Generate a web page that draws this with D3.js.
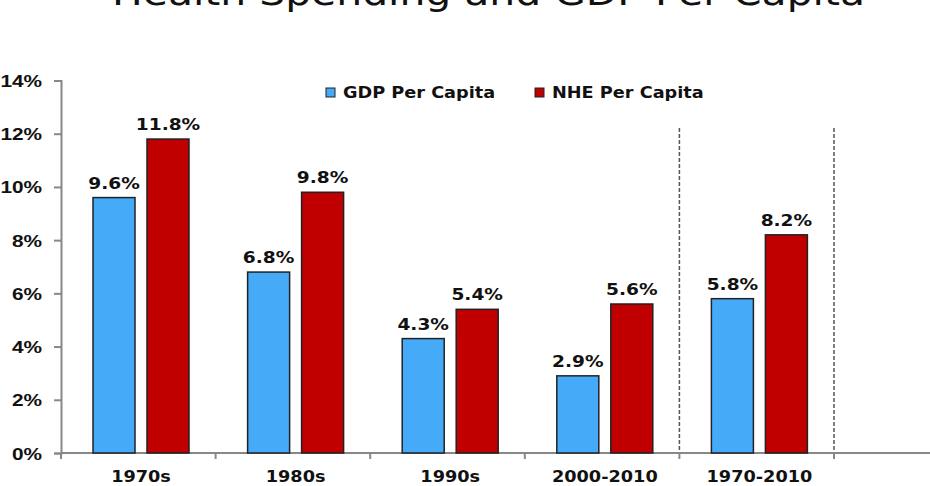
<!doctype html>
<html lang="en">
<head>
<meta charset="utf-8">
<title>Health Spending and GDP Per Capita</title>
<script src="https://d3js.org/d3.v7.min.js"></script>
<style>
  body { margin: 0; background: #fff; }
  svg { display: block; font-family: "DejaVu Sans", Verdana, sans-serif; }
  .lbl { font-weight: bold; fill: #111; }
</style>
</head>
<body>
<div id="chart"></div>
<script>
var categories = ["1970s", "1980s", "1990s", "2000-2010", "1970-2010"];
var gdpPerCapita = [9.6, 6.8, 4.3, 2.9, 5.8];
var nhePerCapita = [11.8, 9.8, 5.4, 5.6, 8.2];
var seriesNames = ["GDP Per Capita", "NHE Per Capita"];
var seriesColors = ["#45aaf8", "#c00000"];
var yTicks = [0, 2, 4, 6, 8, 10, 12, 14];

var width = 930, height = 486;
var sx = 1.18; // the source picture is stretched sideways

var svg = d3.select("#chart").append("svg")
    .attr("width", width)
    .attr("height", height);

var x0 = d3.scaleBand().domain(categories).range([61, 834]).padding(0);
var x1 = d3.scaleBand().domain(seriesNames).range([32, 128]).paddingInner(0.222);
var y = d3.scaleLinear().domain([0, 14]).range([453, 80.5]);

// title, cut off at the top in the source
svg.append("text")
    .attr("x", 112).attr("y", 5)
    .attr("textLength", 753)
    .attr("lengthAdjust", "spacingAndGlyphs")
    .style("font-size", "36px")
    .style("fill", "#111")
    .text("Health Spending and GDP Per Capita");

// dashed separators around the 1970-2010 group
svg.selectAll(".sep")
  .data(["2000-2010", "1970-2010"])
  .enter().append("line")
    .attr("x1", function(d) { return x0(d) + x0.bandwidth(); })
    .attr("x2", function(d) { return x0(d) + x0.bandwidth(); })
    .attr("y1", 128).attr("y2", y(0))
    .attr("stroke", "#555").attr("stroke-width", 1.5)
    .attr("stroke-dasharray", "4,2");

// y axis
var yAxis = svg.append("g")
    .attr("transform", "translate(61,0)")
    .call(d3.axisLeft(y).tickValues(yTicks).tickSize(7).tickFormat(function(d) { return d + "%"; }));
yAxis.select(".domain").attr("stroke", "#888").attr("stroke-width", 2);
yAxis.selectAll(".tick line").attr("stroke", "#888").attr("stroke-width", 2);
yAxis.selectAll(".tick text")
    .attr("class", "lbl")
    .attr("x", null).attr("dy", null)
    .attr("text-anchor", "end")
    .style("font-size", "16px")
    .attr("transform", "translate(-19,6) scale(1.3,1)");

// x axis
var xAxis = svg.append("g")
    .attr("transform", "translate(0," + y(0) + ")");
xAxis.append("line")
    .attr("x1", 61).attr("x2", width)
    .attr("stroke", "#888").attr("stroke-width", 2);
var bounds = categories.map(function(c) { return x0(c); }).concat([x0.range()[1]]);
xAxis.selectAll(".xt")
  .data(bounds)
  .enter().append("line")
    .attr("x1", function(d) { return d; }).attr("x2", function(d) { return d; })
    .attr("y1", 0).attr("y2", 6)
    .attr("stroke", "#888").attr("stroke-width", 2);
xAxis.selectAll(".xl")
  .data(categories)
  .enter().append("text")
    .attr("class", "lbl")
    .attr("text-anchor", "middle")
    .style("font-size", "15px")
    .attr("transform", function(d) {
      return "translate(" + (x0(d) + x1.range()[0] + (x1.range()[1] - x1.range()[0]) / 2) + ",29) scale(" + sx + ",1)";
    })
    .text(function(d) { return d; });

// bars
var rows = categories.map(function(c, i) {
  return { cat: c, vals: [gdpPerCapita[i], nhePerCapita[i]] };
});
var groups = svg.selectAll(".grp")
  .data(rows)
  .enter().append("g")
    .attr("transform", function(d) { return "translate(" + x0(d.cat) + ",0)"; });

groups.selectAll("rect")
  .data(function(d) { return d.vals.map(function(v, j) { return { s: seriesNames[j], v: v, j: j }; }); })
  .enter().append("rect")
    .attr("x", function(d) { return x1(d.s); })
    .attr("y", function(d) { return y(d.v); })
    .attr("width", x1.bandwidth())
    .attr("height", function(d) { return y(0) - y(d.v); })
    .attr("fill", function(d) { return seriesColors[d.j]; })
    .attr("stroke", "#222").attr("stroke-width", 1.5);

groups.selectAll(".val")
  .data(function(d) { return d.vals.map(function(v, j) { return { s: seriesNames[j], v: v }; }); })
  .enter().append("text")
    .attr("class", "lbl")
    .attr("text-anchor", "middle")
    .style("font-size", "15.5px")
    .attr("transform", function(d) {
      return "translate(" + (x1(d.s) + x1.bandwidth() / 2) + "," + (y(d.v) - 9) + ") scale(1.2,1)";
    })
    .text(function(d) { return d.v.toFixed(1) + "%"; });

// legend
var legend = svg.selectAll(".leg")
  .data(seriesNames)
  .enter().append("g")
    .attr("transform", function(d, i) { return "translate(" + [326, 535][i] + ",88)"; });
legend.append("rect")
    .attr("width", 9).attr("height", 9)
    .attr("fill", function(d, i) { return seriesColors[i]; })
    .attr("stroke", "#222").attr("stroke-width", 1);
legend.append("text")
    .attr("class", "lbl")
    .style("font-size", "15px")
    .attr("transform", "translate(17,10) scale(" + sx + ",1)")
    .text(function(d) { return d; });
</script>
</body>
</html>
